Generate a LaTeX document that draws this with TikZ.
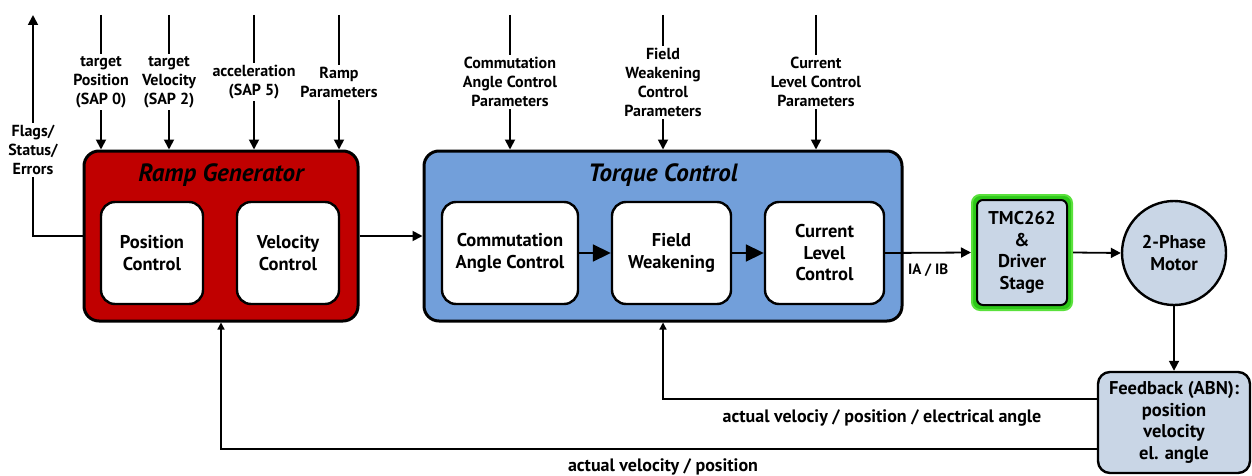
\documentclass[tikz,border=0pt]{standalone}
\usepackage{fontspec}
\setmainfont{PT Sans}
\usetikzlibrary{positioning}
\usetikzlibrary{arrows.meta}
\definecolor{rampred}{RGB}{192,0,0}
\definecolor{torqueblue}{RGB}{114,159,218}
\definecolor{drvgray}{RGB}{201,214,230}
\definecolor{drvgreen}{RGB}{45,200,25}
\definecolor{drvlight}{RGB}{90,225,60}

\begin{document}
\begin{tikzpicture}[x=1pt, y=-1pt,
  every node/.style={font=\bfseries\fontsize{18.5}{21.5}\selectfont, align=center},
  block/.style={draw, line width=3pt, rounded corners=15pt, minimum height=170pt},
  box/.style={draw, fill=white, line width=2.4pt, rounded corners=14pt, minimum height=102pt},
  title/.style={font=\bfseries\itshape\fontsize{25}{28}\selectfont},
  lbl/.style={fill=white, inner sep=2pt, font=\bfseries\fontsize{16}{19}\selectfont},
  arr/.style={-{Triangle[length=10pt,width=10pt]}, line width=1.8pt},
  bigarr/.style={-{Triangle[length=18pt,width=17pt]}, line width=1.8pt},
  fbarr/.style={-{Triangle[length=7pt,width=7pt]}, line width=1.3pt}]
              \fill[white] (0,0) rectangle (1252,476);
              \useasboundingbox (0,0) rectangle (1252,476);

              % Bloques
              \node[block, fill=rampred, minimum width=274pt] (rg) at (221,236) {};
              \node[title] (rgt) at (221,175) {Ramp Generator};
              \node[box, minimum width=102pt] (pc) at (152,253) {Position\\Control};
              \node[box, minimum width=102pt] (vc) at (288,253) {Velocity\\Control};

              \node[block, fill=torqueblue, minimum width=478pt] (tc) at (663,236) {};
              \node[title] (tct) at (663,175) {Torque Control};
              \node[box, minimum width=136pt] (cac) at (510,253) {Commutation\\Angle Control};
              \node[box, minimum width=119pt] (fw) at (671.5,253) {Field\\Weakening};
              \node[box, minimum width=119pt] (clc) at (824.5,253) {Current\\Level\\Control};

              \node[draw=drvlight, line width=2pt, fill=drvgreen, rounded corners=8pt,
                    minimum width=100pt, minimum height=115pt] (drvg) at (1022,252.5) {};
              \node[draw, line width=2pt, fill=drvgray, rounded corners=6pt,
                    minimum width=90pt, minimum height=105pt] (drv) at (1022,252.5) {TMC262\\\&\\Driver\\Stage};
              \node[draw, circle, line width=2.4pt, fill=drvgray, minimum size=104pt] (m) at (1174,253) {2-Phase\\Motor};
              \node[draw, line width=2.4pt, fill=drvgray, rounded corners=12pt,
                    minimum width=152pt, minimum height=101pt] (fb) at (1174,422.5) {Feedback (ABN):\\position\\velocity\\el. angle};

              % Entradas
              \coordinate (i1) at (101,15);
              \coordinate (i2) at (169,15);
              \coordinate (i3) at (254,15);
              \coordinate (i4) at (339,15);
              \coordinate (i5) at (510,15);
              \coordinate (i6) at (663,15);
              \coordinate (i7) at (816,15);
              \coordinate (fl) at (33,15);

              \draw[arr] (i1) -- node[lbl] {target\\Position\\(SAP 0)} (i1 |- rg.north);
              \draw[arr] (i2) -- node[lbl] {target\\Velocity\\(SAP 2)} (i2 |- rg.north);
              \draw[arr] (i3) -- node[lbl] {acceleration\\(SAP 5)} (i3 |- rg.north);
              \draw[arr] (i4) -- node[lbl] {Ramp\\Parameters} (i4 |- rg.north);
              \draw[arr] (i5) -- node[lbl] {Commutation\\Angle Control\\Parameters} (i5 |- tc.north);
              \draw[arr] (i6) -- node[lbl] {Field\\Weakening\\Control\\Parameters} (i6 |- tc.north);
              \draw[arr] (i7) -- node[lbl] {Current\\Level Control\\Parameters} (i7 |- tc.north);

              % Flechas
              \draw[arr] (rg.west) -| (fl);
              \node[lbl] (fll) at (33,150) {Flags/\\Status/\\Errors};
              \draw[arr] (rg.east) -- (tc.west);
              \draw[bigarr] (cac) -- (fw);
              \draw[bigarr] (fw) -- (clc);
              \draw[arr] (clc.east) -- node[below=9pt, inner sep=1pt, font=\bfseries\fontsize{15}{17}\selectfont] {IA / IB} (drvg.west);
              \draw[arr] (drvg.east) -- (m.west);
              \draw[arr] (m.south) -- (fb.north);

              % Realimentacion
              \draw[fbarr] (fb.west |- 0,399) -| (tc.south);
              \draw[fbarr] (fb.west |- 0,449) -| (rg.south);
              \node[font=\bfseries\fontsize{18}{20}\selectfont] (fbt1) at (882,418) {actual velociy / position / electrical angle};
              \node[font=\bfseries\fontsize{18}{20}\selectfont] (fbt2) at (663,467) {actual velocity / position};
            \end{tikzpicture}
\end{document}
